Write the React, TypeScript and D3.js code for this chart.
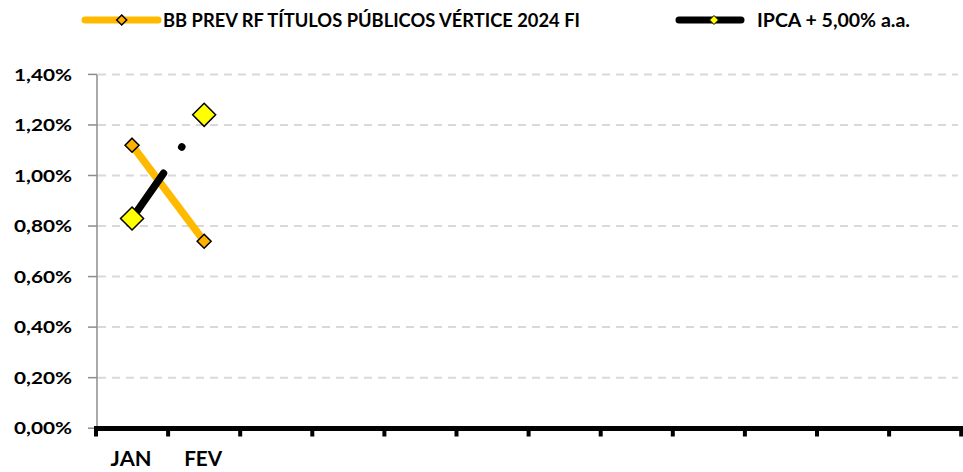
import React from "react";
import * as d3 from "d3";

const categories = ["JAN", "FEV", "", "", "", "", "", "", "", "", "", ""];
const fundName = "BB PREV RF TÍTULOS PÚBLICOS VÉRTICE 2024 FI";
const benchName = "IPCA + 5,00% a.a.";
const fundValues = [0.0112, 0.0074];
const benchValues = [0.0083, 0.0124];
const yTicks = [0, 0.002, 0.004, 0.006, 0.008, 0.01, 0.012, 0.014];

const W = 963;
const H = 472;
const FONT = "Lato, 'Open Sans', sans-serif";

const fmt = (v: number) => (v * 100).toFixed(2).replace(".", ",") + "%";

function diamond(cx: number, cy: number, r: number) {
  return `M${cx},${cy - r}L${cx + r},${cy}L${cx},${cy + r}L${cx - r},${cy}Z`;
}

export default function App() {
  const x = d3
    .scaleBand<number>()
    .domain(categories.map((_, i) => i))
    .range([96, 961.2]);
  const y = d3.scaleLinear().domain([0, 0.014]).range([428.2, 74.4]);
  const cx = (i: number) => (x(i) as number) + x.bandwidth() / 2;

  const line = d3
    .line<number>()
    .x((_, i) => cx(i))
    .y((d) => y(d));

  const boundaries = d3.range(categories.length + 1).map((i) => 96 + i * x.bandwidth());

  return (
    <div style={{ position: "absolute", left: 0, top: 0 }}>
      <svg width={W} height={H} style={{ display: "block", background: "#fff" }} fontFamily={FONT}>
        {/* legend */}
        <g>
          <line x1={85} x2={158} y1={20} y2={20} stroke="#FFBA00" strokeWidth={7} strokeLinecap="round" />
          <path d={diamond(121.7, 20, 5)} fill="#FFB000" stroke="#000" strokeWidth={1.5} />
          <text x={163} y={26.5} fontSize={18} fontWeight={700} textLength={417} lengthAdjust="spacingAndGlyphs" fill="#000">
            {fundName}
          </text>
          <line x1={679} x2={741} y1={20} y2={20} stroke="#000" strokeWidth={7} strokeLinecap="round" />
          <path d={diamond(714, 20, 4.5)} fill="#FFFF00" stroke="#000" strokeWidth={1} />
          <text x={757} y={26.5} fontSize={18} fontWeight={700} textLength={153} lengthAdjust="spacingAndGlyphs" fill="#000">
            {benchName}
          </text>
        </g>

        {/* gridlines */}
        {yTicks
          .filter((t) => t > 0)
          .map((t) => (
            <line
              key={"g" + t}
              x1={98}
              x2={958}
              y1={y(t)}
              y2={y(t)}
              stroke="#D9D9D9"
              strokeWidth={2}
              strokeDasharray="8 6"
            />
          ))}

        {/* y axis */}
        <line x1={97} x2={97} y1={y(0.014)} y2={y(0)} stroke="#8C8C8C" strokeWidth={1.5} />
        {yTicks.map((t) => (
          <g key={"y" + t}>
            <line x1={88} x2={97} y1={y(t)} y2={y(t)} stroke="#8C8C8C" strokeWidth={1.5} />
            <text
              x={72}
              y={y(t) + 6.2}
              fontSize={17}
              fontWeight={700}
              textAnchor="end"
              textLength={58}
              lengthAdjust="spacingAndGlyphs"
              fill="#000"
            >
              {fmt(t)}
            </text>
          </g>
        ))}

        {/* x axis */}
        <line x1={94} x2={963} y1={428.5} y2={428.5} stroke="#000" strokeWidth={5} />
        {boundaries.map((b, i) => (
          <line key={"xt" + i} x1={b} x2={b} y1={428} y2={436.5} stroke="#000" strokeWidth={4} />
        ))}
        {categories.map((c, i) =>
          c ? (
            <text
              key={"xl" + i}
              x={cx(i) - 1}
              y={466}
              fontSize={21}
              fontWeight={700}
              textAnchor="middle"
              textLength={c === "JAN" ? 41 : 38}
              lengthAdjust="spacingAndGlyphs"
              fill="#000"
            >
              {c}
            </text>
          ) : null
        )}

        {/* fund series */}
        <path d={line(fundValues) as string} fill="none" stroke="#FFBA00" strokeWidth={7.5} />
        {fundValues.map((v, i) => (
          <path key={"fm" + i} d={diamond(cx(i), y(v), 7)} fill="#FFB000" stroke="#000" strokeWidth={1.5} />
        ))}

        {/* benchmark series */}
        <path
          d={line(benchValues) as string}
          fill="none"
          stroke="#000"
          strokeWidth={7.5}
          strokeLinecap="round"
          strokeDasharray="55 32 0.1 45"
        />
        {benchValues.map((v, i) => (
          <path key={"bm" + i} d={diamond(cx(i), y(v), 11.5)} fill="#FFFF00" stroke="#000" strokeWidth={1.5} />
        ))}
      </svg>
    </div>
  );
}
